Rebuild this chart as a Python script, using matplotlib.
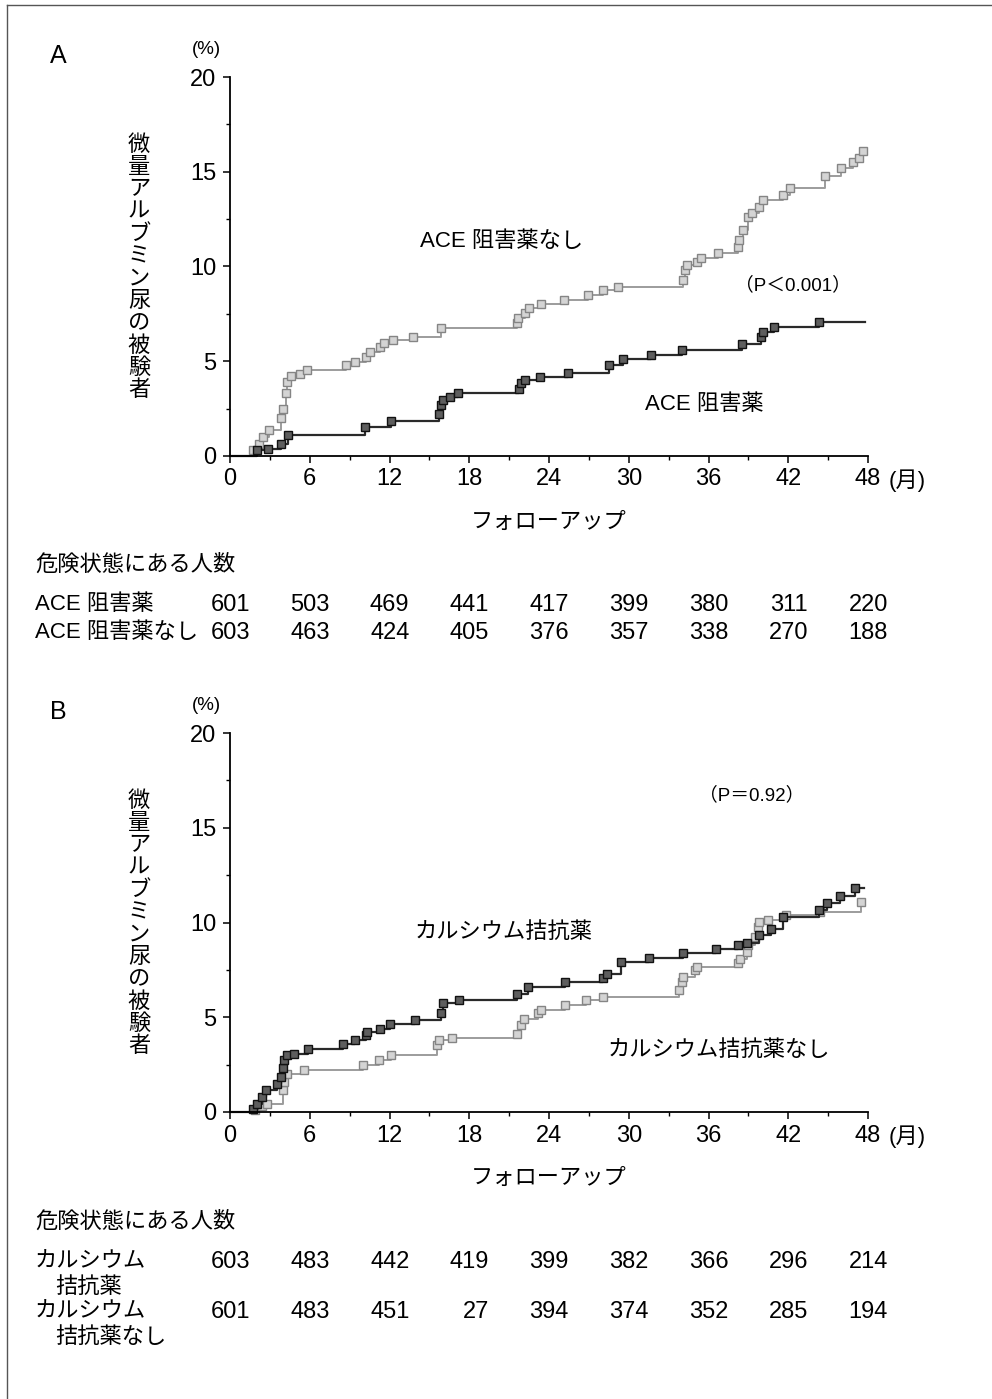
import matplotlib
matplotlib.use('Agg')
import matplotlib.pyplot as plt
from matplotlib.ticker import MultipleLocator
from matplotlib.lines import Line2D
from matplotlib.transforms import blended_transform_factory

plt.rcParams['font.family'] = ['Liberation Sans', 'Noto Sans CJK JP']

# ---- data (months, cumulative % with microalbuminuria) ----
# panel A
ace_months = [0, 2.05, 2.86, 3.84, 4.33, 10.18, 12.13, 15.71, 15.87, 16.03, 16.52, 17.17,
              21.72, 21.89, 22.21, 23.35, 25.46, 28.49, 29.53, 31.64, 34.02, 38.54, 39.93,
              40.10, 40.91, 44.33, 47.8]
ace_pct = [0, 0.3, 0.39, 0.65, 1.1, 1.53, 1.83, 2.24, 2.68, 2.94, 3.12, 3.3, 3.56, 3.86,
           4.0, 4.18, 4.4, 4.8, 5.1, 5.32, 5.62, 5.9, 6.29, 6.55, 6.82, 7.08, 7.08]

no_ace_months = [0, 1.7, 2.2, 2.5, 2.9, 3.8, 4.0, 4.2, 4.3, 4.6, 5.3, 5.8, 8.7, 9.4, 10.2,
                 10.5, 11.3, 11.6, 12.3, 13.8, 15.9, 21.6, 21.7, 22.2, 22.5, 23.4, 25.1,
                 26.9, 28.1, 29.2, 34.1, 34.2, 34.4, 35.1, 35.4, 36.7, 38.2, 38.3, 38.6,
                 39.0, 39.3, 39.8, 40.1, 41.6, 42.1, 44.8, 46.0, 46.9, 47.3, 47.6]
no_ace_pct = [0, 0.3, 0.65, 1.0, 1.36, 2.0, 2.5, 3.3, 3.9, 4.2, 4.35, 4.56, 4.8, 4.97,
              5.23, 5.5, 5.76, 5.97, 6.1, 6.3, 6.73, 7.0, 7.26, 7.56, 7.79, 8.0, 8.23, 8.5,
              8.76, 8.93, 9.3, 9.8, 10.08, 10.26, 10.43, 10.73, 11.05, 11.4, 11.9, 12.6,
              12.8, 13.16, 13.5, 13.78, 14.13, 14.75, 15.2, 15.54, 15.72, 16.07]

# panel B
ca_months = [0, 1.7, 2.0, 2.4, 2.7, 3.5, 3.8, 4.0, 4.1, 4.3, 4.8, 5.9, 8.5, 9.4, 10.2,
             10.3, 11.3, 12.0, 13.9, 15.9, 16.0, 17.2, 21.6, 22.4, 25.2, 28.1, 28.4, 29.4,
             31.5, 34.1, 36.6, 38.2, 38.9, 39.8, 40.7, 41.6, 44.3, 44.9, 45.9, 47.0, 47.7]
ca_pct = [0, 0.18, 0.44, 0.8, 1.15, 1.5, 1.85, 2.3, 2.73, 3.0, 3.08, 3.35, 3.6, 3.8, 4.05,
          4.23, 4.4, 4.63, 4.88, 5.2, 5.73, 5.9, 6.25, 6.6, 6.87, 7.05, 7.3, 7.9, 8.14,
          8.37, 8.6, 8.81, 8.93, 9.34, 9.64, 10.3, 10.66, 11.05, 11.4, 11.8, 11.8]

no_ca_months = [0, 1.9, 2.4, 2.8, 4.0, 4.1, 4.3, 5.6, 10.0, 11.2, 12.1, 15.6, 15.7, 16.7,
                21.6, 21.9, 22.1, 23.2, 23.4, 25.2, 26.8, 28.1, 33.8, 34.0, 34.1, 35.0,
                35.1, 38.2, 38.4, 38.9, 39.0, 39.5, 39.7, 39.8, 40.5, 41.8, 44.4, 47.5]
no_ca_pct = [0, 0.12, 0.3, 0.44, 1.15, 1.59, 2.0, 2.2, 2.47, 2.73, 3.0, 3.52, 3.8, 3.88,
             4.14, 4.58, 4.93, 5.2, 5.37, 5.64, 5.9, 6.08, 6.43, 6.87, 7.14, 7.49, 7.67,
             7.84, 8.1, 8.46, 8.81, 9.25, 9.78, 10.04, 10.13, 10.4, 10.57, 11.1]

# numbers at risk
risk_months = [0, 6, 12, 18, 24, 30, 36, 42, 48]
risk_ace = [601, 503, 469, 441, 417, 399, 380, 311, 220]
risk_no_ace = [603, 463, 424, 405, 376, 357, 338, 270, 188]
risk_ca = [603, 483, 442, 419, 399, 382, 366, 296, 214]
risk_no_ca = [601, 483, 451, 27, 394, 374, 352, 285, 194]

ylabel_text = '微量アルブミン尿の被験者'

W, H = 992, 1399
def fx(px):
    return px / W
def fy(py):
    return 1 - py / H

DARK = dict(color='#2a2a2a', lw=1.6, marker='s', ms=5.5, mfc='#5e5e5e', mec='#111111', mew=1.0)
LIGHT = dict(color='#9c9c9c', lw=1.4, marker='s', ms=5.5, mfc='#d4d4d4', mec='#858585', mew=1.0)

fig = plt.figure(figsize=(W / 100, H / 100), dpi=100)

# page frame (top and left edges visible in the scan)
fig.add_artist(Line2D([fx(7), fx(7)], [0, fy(5)], color='#555555', lw=1.0))
fig.add_artist(Line2D([fx(7), 1], [fy(5), fy(5)], color='#555555', lw=1.0))


def setup_axes(ax):
    ax.set_xlim(0, 48)
    ax.set_ylim(0, 20)
    for s in ['top', 'right']:
        ax.spines[s].set_visible(False)
    for s in ['left', 'bottom']:
        ax.spines[s].set_linewidth(1.3)
    ax.xaxis.set_major_locator(MultipleLocator(6))
    ax.xaxis.set_minor_locator(MultipleLocator(3))
    ax.yaxis.set_major_locator(MultipleLocator(5))
    ax.yaxis.set_minor_locator(MultipleLocator(2.5))
    ax.tick_params(which='major', direction='out', length=5, width=1.1, labelsize=17)
    ax.tick_params(which='minor', direction='out', length=3, width=1.0)
    ax.tick_params(axis='x', which='major', pad=4)
    ax.tick_params(axis='y', which='major', pad=5)
    ax.set_xlabel('フォローアップ', fontsize=16)
    ax.xaxis.set_label_coords(0.5, -66 / 379)
    ax.xaxis.label.set_va('center')


def panel(top_px, letter, curves, notes, table_y, rows):
    ax = fig.add_axes([fx(230), fy(top_px + 379), fx(868) - fx(230), 379 / H])
    setup_axes(ax)
    for mx, my, style, mk in curves:
        ax.plot(mx, my, drawstyle='steps-post', markevery=mk, clip_on=False, **style)
    for x, y, s, fs in notes:
        ax.text(x, y, s, fontsize=fs, ha='left', va='center')

    fig.text(fx(50), fy(top_px - 21), letter, fontsize=18, ha='left', va='center')
    fig.text(fx(192), fy(top_px - 28), '(%)', fontsize=13.5, ha='left', va='center')
    fig.text(fx(889), fy(top_px + 404), '(月)', fontsize=16, ha='left', va='center')
    # vertical y label, one character per line
    n = len(ylabel_text)
    pitch = 22.3
    y0 = top_px + 191 - pitch * (n - 1) / 2
    for i, ch in enumerate(ylabel_text):
        fig.text(fx(139), fy(y0 + i * pitch), ch, fontsize=16, ha='center', va='center')

    # numbers at risk
    fig.text(fx(35), fy(table_y), '危険状態にある人数', fontsize=16, ha='left', va='center')
    tr = blended_transform_factory(ax.transData, fig.transFigure)
    for labels, ypx, counts in rows:
        for j, lab in enumerate(labels):
            xoff = 35 if j == 0 else 55
            fig.text(fx(xoff), fy(ypx + j * 25), lab, fontsize=16, ha='left', va='center')
        for m, c in zip(risk_months, counts):
            ax.text(m + 1.5, fy(ypx), str(c), transform=tr, fontsize=17,
                    ha='right', va='center')
    return ax


panel(77, 'A',
      [(no_ace_months, no_ace_pct, LIGHT, slice(1, None)),
       (ace_months, ace_pct, DARK, slice(1, -1))],
      [(14.3, 11.3, 'ACE 阻害薬なし', 16),
       (38.0, 9.0, '（P＜0.001）', 13.5),
       (31.2, 2.7, 'ACE 阻害薬', 16)],
      565,
      [(['ACE 阻害薬'], 605, risk_ace),
       (['ACE 阻害薬なし'], 633, risk_no_ace)])

panel(733, 'B',
      [(no_ca_months, no_ca_pct, LIGHT, slice(1, None)),
       (ca_months, ca_pct, DARK, slice(1, -1))],
      [(35.3, 16.7, '（P＝0.92）', 13.5),
       (13.9, 9.45, 'カルシウム拮抗薬', 16),
       (28.4, 3.27, 'カルシウム拮抗薬なし', 16)],
      1222,
      [(['カルシウム', '拮抗薬'], 1262, risk_ca),
       (['カルシウム', '拮抗薬なし'], 1312, risk_no_ca)])

fig.savefig('out.png', dpi=100)
